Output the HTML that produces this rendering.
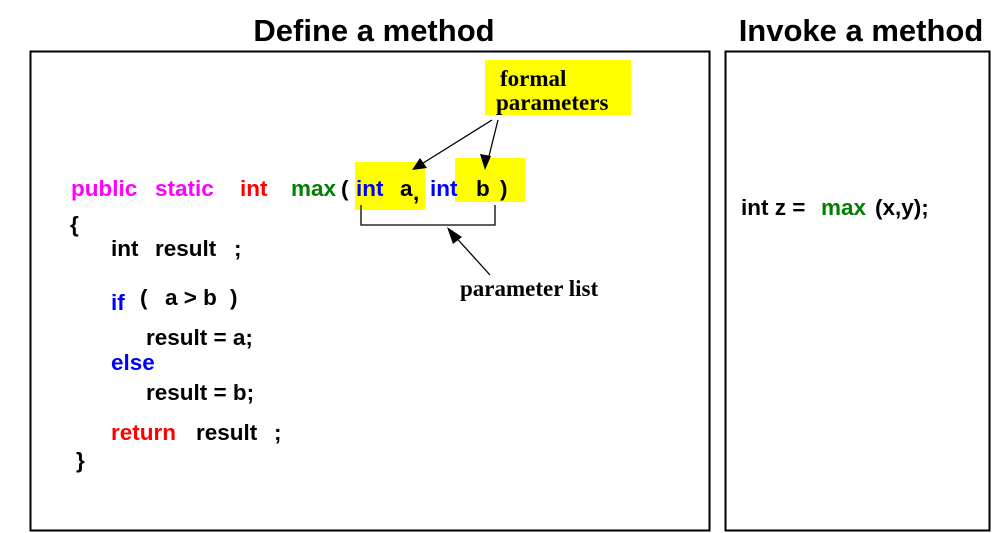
<!DOCTYPE html>
<html><head><meta charset="utf-8"><style>html,body{margin:0;padding:0;background:#fff}svg{display:block}</style></head>
<body>
<svg width="992" height="533" viewBox="0 0 992 533" xmlns="http://www.w3.org/2000/svg">
<g font-family="Liberation Sans, sans-serif" font-weight="bold">
<text x="374" y="41" font-size="31" text-anchor="middle">Define a method</text>
<text x="861" y="41" font-size="31" text-anchor="middle">Invoke a method</text>
</g>
<rect x="30.5" y="51.5" width="679" height="479" fill="none" stroke="#000" stroke-width="2"/>
<rect x="725.5" y="51.5" width="264" height="479" fill="none" stroke="#000" stroke-width="2"/>
<rect x="485" y="60" width="146" height="55" fill="#ffff00"/>
<rect x="355" y="162" width="70" height="48" fill="#ffff00"/>
<rect x="455" y="158" width="70" height="44" fill="#ffff00"/>
<g font-family="Liberation Serif, serif" font-weight="bold" font-size="23">
<text x="500" y="86">formal</text>
<text x="496" y="110">parameters</text>
<text x="460" y="296">parameter list</text>
</g>
<g stroke="#000" stroke-width="1.3" fill="none">
<line x1="492" y1="120" x2="420" y2="165"/>
<line x1="498" y1="120" x2="488" y2="160"/>
<polyline points="361,205 361,225 495,225 495,205"/>
<line x1="490" y1="275" x2="452" y2="233"/>
</g>
<g fill="#000">
<polygon points="412,170 420,158 427,168"/>
<polygon points="485,170 480,154 491,156"/>
<polygon points="447,227 462,237 453,244"/>
</g>
<g font-family="Liberation Sans, sans-serif" font-weight="bold" font-size="22.5" fill="#000">
<text x="71" y="196" fill="#ff00ff">public</text>
<text x="155" y="196" fill="#ff00ff">static</text>
<text x="240" y="196" fill="#ff0000">int</text>
<text x="291" y="196" fill="#008000">max</text>
<text x="341" y="196">(</text>
<text x="356" y="196" fill="#0000ff">int</text>
<text x="400" y="196">a</text>
<text x="413" y="200">,</text>
<text x="430" y="196" fill="#0000ff">int</text>
<text x="476" y="196">b</text>
<text x="500" y="196">)</text>
<text x="70" y="232">{</text>
<text x="111" y="256">int</text>
<text x="155" y="256">result</text>
<text x="234" y="256">;</text>
<text x="111" y="310" fill="#0000ff">if</text>
<text x="140" y="305">(</text>
<text x="165" y="305">a &gt; b</text>
<text x="230" y="305">)</text>
<text x="146" y="345">result = a;</text>
<text x="111" y="370" fill="#0000ff">else</text>
<text x="146" y="400">result = b;</text>
<text x="111" y="440" fill="#ff0000">return</text>
<text x="196" y="440">result</text>
<text x="274" y="440">;</text>
<text x="76" y="468">}</text>
<text x="741" y="215">int z =</text>
<text x="821" y="215" fill="#008000">max</text>
<text x="875" y="215">(x,y);</text>
</g>
</svg>
</body></html>
